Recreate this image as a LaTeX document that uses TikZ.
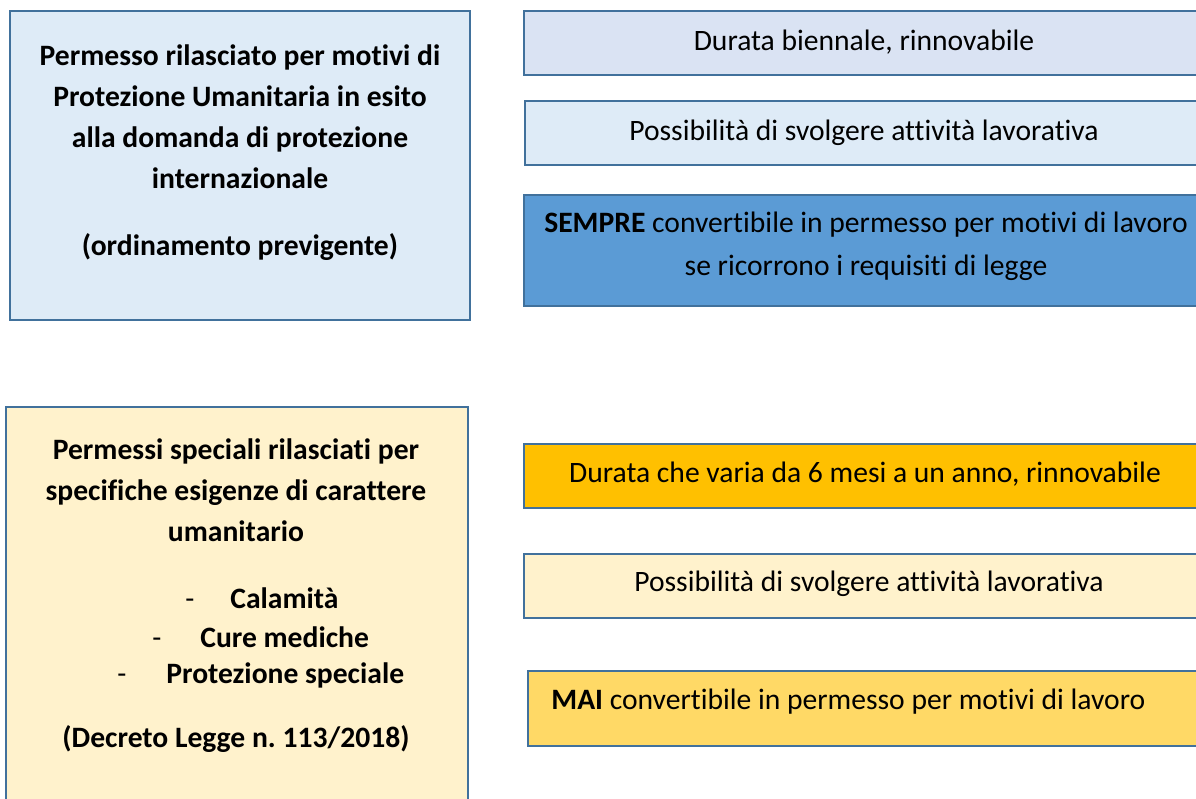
\documentclass[tikz,border=0pt]{standalone}
\usepackage{fontspec}
\setmainfont{Carlito}[Ligatures={NoCommon}]
\usetikzlibrary{positioning}

\definecolor{edgeblue}{HTML}{41719C}
\definecolor{paleblue}{HTML}{DEEBF7}
\definecolor{lightblue}{HTML}{DAE3F3}
\definecolor{midblue}{HTML}{5B9BD5}
\definecolor{paleyellow}{HTML}{FFF2CC}
\definecolor{goldfill}{HTML}{FFC000}
\definecolor{lightgold}{HTML}{FFD966}

\tikzset{
  box/.style={rectangle, draw=edgeblue, line width=1pt, inner sep=0pt},
  txt/.style={inner sep=0pt, font=\fontsize{14.8}{20.5}\selectfont},
  bold/.style={txt, font=\fontsize{14.8}{20.5}\selectfont\bfseries, align=center}
}

\begin{document}
\begin{tikzpicture}[x=0.5pt, y=-0.5pt]
  \useasboundingbox (0,0) rectangle (1196,799);
  \clip (0,0) rectangle (1196,799);

  % upper block
  \node[box, fill=paleblue, minimum width=230pt, minimum height=154.5pt] (umanitaria) at (240,165.5) {};
  \node[box, fill=lightblue, minimum width=340pt, minimum height=32pt] (biennale) at (864,43) {};
  \node[box, fill=paleblue, minimum width=340pt, minimum height=32pt] (lavoro1) at (865,133) {};
  \node[box, fill=midblue, minimum width=340pt, minimum height=55.5pt] (sempre) at (864,250.5) {};

  \node[bold] (umanitaria text) at (240,117) {Permesso rilasciato per motivi di\\
    Protezione Umanitaria in esito\\
    alla domanda di protezione\\
    internazionale};
  \node[bold] (previgente) at (240,247) {(ordinamento previgente)};
  \node[txt] (biennale text) at (864,42) {Durata biennale, rinnovabile};
  \node[txt] (lavoro1 text) at (864,133) {Possibilità di svolgere attività lavorativa};
  \node[txt, align=center, font=\fontsize{14.8}{21.5}\selectfont] (sempre text) at (866,246.5)
    {\textbf{SEMPRE} convertibile in permesso per motivi di lavoro\\se ricorrono i requisiti di legge};

  % lower block
  \node[box, fill=paleyellow, minimum width=231pt, minimum height=220pt] (speciali) at (237,627) {};
  \node[box, fill=goldfill, minimum width=340pt, minimum height=32pt] (semestre) at (864,476) {};
  \node[box, fill=paleyellow, minimum width=340pt, minimum height=32pt] (lavoro2) at (864,586) {};
  \node[box, fill=lightgold, minimum width=338pt, minimum height=37.5pt] (mai) at (866,708.5) {};

  \node[bold] (speciali text) at (236,490) {Permessi speciali rilasciati per\\
    specifiche esigenze di carattere\\
    umanitario};
  \node[bold, anchor=west] (calamita) at (185,598) {\makebox[22.5pt][l]{\mdseries-}Calamità};
  \node[bold, anchor=west] (cure) at (152,637) {\makebox[24pt][l]{\mdseries-}Cure mediche};
  \node[bold, anchor=west] (speciale) at (117,675) {\makebox[24.5pt][l]{\mdseries-}Protezione speciale};
  \node[bold] (decreto) at (236,739) {(Decreto Legge n.\ 113/2018)};
  \node[txt] (semestre text) at (865,474) {Durata che varia da 6 mesi a un anno, rinnovabile};
  \node[txt] (lavoro2 text) at (869,584) {Possibilità di svolgere attività lavorativa};
  \node[txt, anchor=west] (mai text) at (551,702) {\textbf{MAI} convertibile in permesso per motivi di lavoro};
\end{tikzpicture}
\end{document}
